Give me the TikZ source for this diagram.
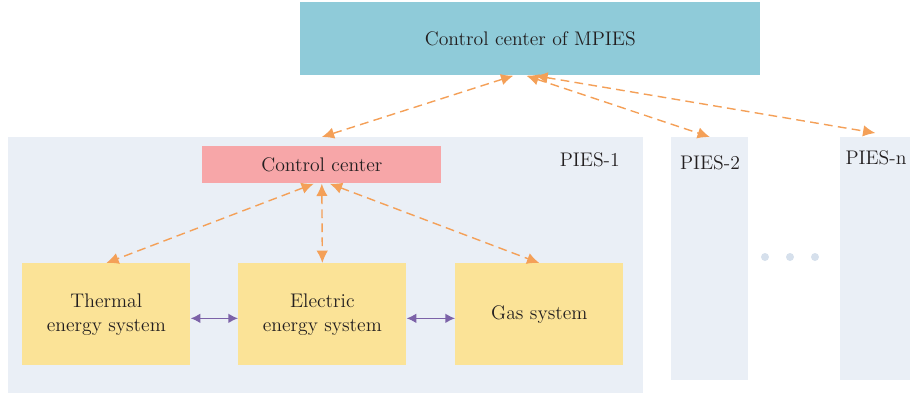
\documentclass[tikz,border=0pt]{standalone}
\usepackage{tikz}
\usetikzlibrary{arrows.meta, positioning}
\definecolor{mpiesblue}{RGB}{143, 203, 217}
\definecolor{piesgray}{RGB}{234, 239, 246}
\definecolor{ctrlpink}{RGB}{247, 166, 168}
\definecolor{sysyellow}{RGB}{251, 227, 151}
\definecolor{linkorange}{RGB}{244, 160, 88}
\definecolor{linkpurple}{RGB}{124, 98, 168}
\definecolor{dotgray}{RGB}{214, 224, 236}
\definecolor{textdark}{RGB}{35, 31, 32}
\tikzset{
  every node/.style={
    font=\fontsize{11.2}{13.5}\selectfont\color{textdark}
  },
  panel/.style={
    fill=piesgray,
    draw=none,
    anchor=north west,
    inner sep=0pt
  },
  ctrlbox/.style={
    draw=none,
    anchor=north west,
    inner sep=0pt,
    align=center
  },
  sysbox/.style={
    fill=sysyellow,
    draw=none,
    anchor=north west,
    inner sep=0pt,
    minimum width=3.36cm,
    minimum height=2.04cm,
    align=center
  },
  ctrllink/.style={
    {Latex[length=7pt,width=6.5pt]}-{Latex[length=7pt,width=6.5pt]},
    draw=linkorange,
    thick,
    dash pattern=on 5pt off 3pt
  },
  energylink/.style={
    {Latex[length=5.5pt,width=5.5pt]}-{Latex[length=5.5pt,width=5.5pt]},
    draw=linkpurple,
    thick
  }
}
\begin{document}
\begin{tikzpicture}[x=0.02cm, y=-0.02cm]
      \useasboundingbox (0,0) rectangle (910,396);

      % PIES panels
      \node[panel, minimum width=12.7cm, minimum height=5.12cm] (pies1) at (8,137) {};
      \node[panel, minimum width=1.54cm, minimum height=4.86cm] (pies2) at (671,137) {};
      \node[panel, minimum width=1.4cm, minimum height=4.86cm] (piesn) at (840,137) {};
      \node[anchor=east] (pies1lbl) at (626,160) {PIES-1};
      \node (pies2lbl) at (710,163) {PIES-2};
      \node (piesnlbl) at (876,158) {PIES-n};
      \foreach \dx in {765, 790, 815}
        \fill[dotgray] (\dx,257) circle (0.08cm);

      % control centers
      \node[ctrlbox, fill=mpiesblue, minimum width=9.2cm, minimum height=1.46cm] (mpies) at (300,2) {Control center of MPIES};
      \node[ctrlbox, fill=ctrlpink, minimum width=4.78cm, minimum height=0.74cm] (ctrl) at (202,146) {Control center};

      % energy systems
      \node[sysbox] (thermal) at (22,263) {Thermal\\energy system};
      \node[sysbox] (electric) at (238,263) {Electric\\energy system};
      \node[sysbox] (gas) at (455,263) {Gas system};

      % MPIES links
      \draw[ctrllink] ([xshift=-0.34cm]mpies.south) -- (pies1.north -| ctrl.north);
      \draw[ctrllink] ([xshift=-0.08cm]mpies.south) -- (pies2.north);
      \draw[ctrllink] ([xshift=0.1cm]mpies.south) -- ([yshift=0.08cm]piesn.north);

      % PIES-1 links
      \draw[ctrllink] ([xshift=-0.16cm]ctrl.south) -- (thermal.north);
      \draw[ctrllink] (ctrl.south) -- (electric.north);
      \draw[ctrllink] ([xshift=0.16cm]ctrl.south) -- (gas.north);
      \draw[energylink] ([yshift=-0.08cm]thermal.east) -- ([yshift=-0.08cm]electric.west);
      \draw[energylink] ([yshift=-0.08cm]electric.east) -- ([yshift=-0.08cm]gas.west);
    \end{tikzpicture}
\end{document}
